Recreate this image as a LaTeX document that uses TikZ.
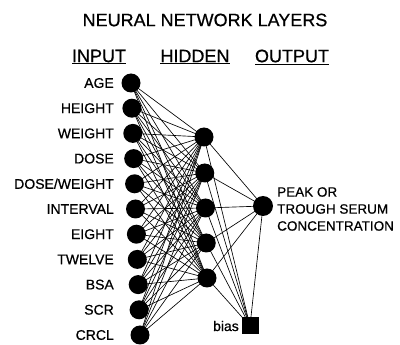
\documentclass[tikz,border=0pt]{standalone}
\usepackage{fontspec}
\setmainfont[FakeBold=0.6]{Liberation Sans}
\begin{document}
\begin{tikzpicture}[x=1pt,y=-1pt,
  neuron/.style={circle,fill=black,inner sep=0pt,minimum size=19pt},
  lab/.style={anchor=east,font=\fontsize{14}{15}\selectfont,inner sep=0pt},
  head/.style={font=\fontsize{18}{20}\selectfont,inner sep=0pt},
  conn/.style={line width=0.65pt}]
\useasboundingbox (0,0) rectangle (400,345);
\node[head] (title) at (205,20) {NEURAL NETWORK LAYERS};
\node[head] (hin) at (99,57) {\underline{INPUT}};
\node[head] (hhid) at (195,57) {\underline{HIDDEN}};
\node[head] (hout) at (292,57) {\underline{OUTPUT}};
\foreach \n [count=\i from 0] in {AGE,HEIGHT,WEIGHT,DOSE,DOSE/WEIGHT,INTERVAL,EIGHT,TWELVE,BSA,SCR,CRCL}{
  \node[neuron] (in\i) at ({131+0.9*\i},{83+25.2*\i}) {};
  \node[lab] (l\i) at (114,{83+25.2*\i}) {\n};
}
\foreach \y [count=\j from 0] in {137,173,208,243,278}{
  \node[neuron] (h\j) at ({204+0.75*\j},\y) {};
}
\node[neuron,minimum size=20pt] (out) at (263,206) {};
\node[fill=black,inner sep=0pt,minimum size=17pt] (bias) at (250,326) {};
\node[anchor=east,font=\fontsize{14}{15}\selectfont,inner sep=0pt] (bl) at (239,326) {bias};
\node[anchor=west,align=left,font=\fontsize{13.5}{17}\selectfont,inner sep=0pt] (ol) at (277,209) {PEAK OR\\TROUGH SERUM\\CONCENTRATION};
\foreach \i in {0,...,10}{
  \foreach \j in {0,...,4}{
    \draw[conn] (in\i.center) -- (h\j.center);
  }
}
\foreach \j in {0,...,4}{
  \draw[conn] (h\j.center) -- (out.center);
  \draw[conn] (h\j.center) -- (bias.center);
}
\draw[conn] (out.center) -- (bias.center);
\end{tikzpicture}
\end{document}
